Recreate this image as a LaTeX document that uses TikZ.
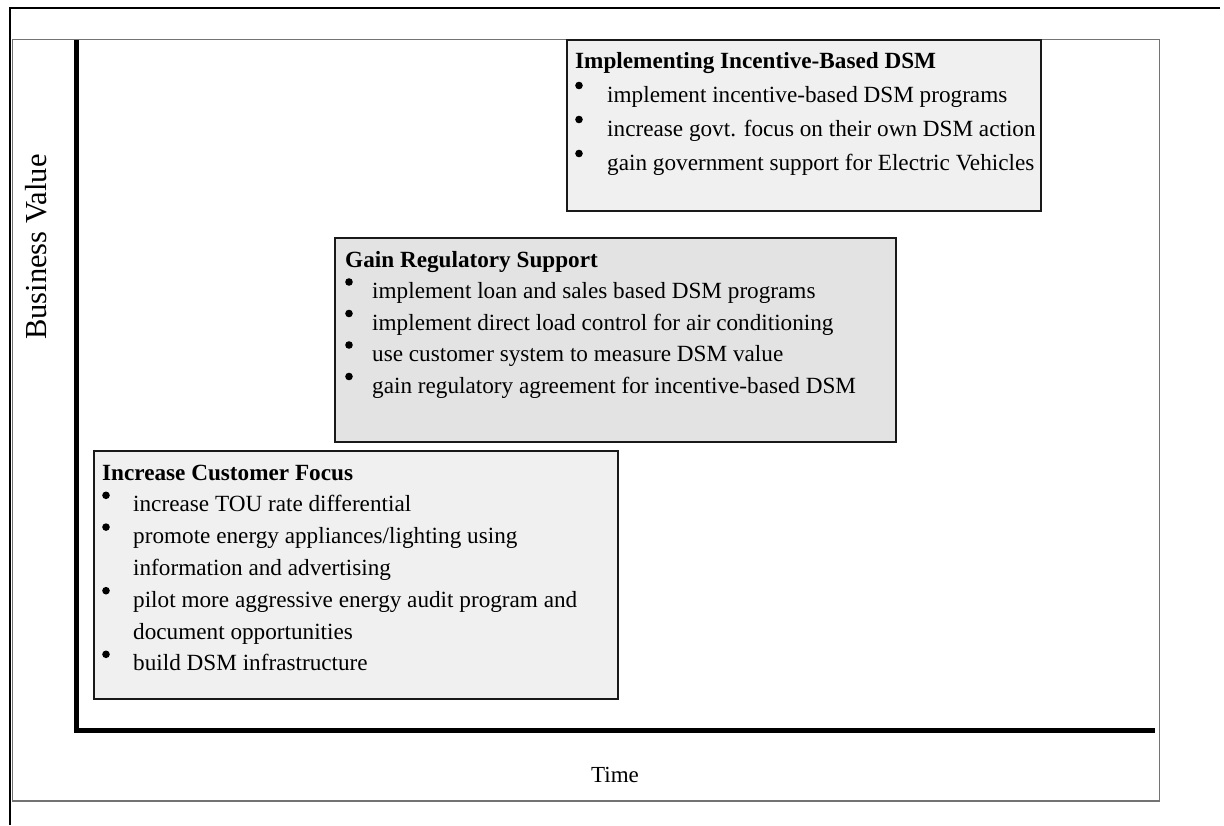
\documentclass[tikz,border=0pt]{standalone}
\usepackage{fontspec}
\setmainfont{Liberation Serif}
\usepackage{array}
\newcommand\bul{\tikz[baseline=0pt]\fill[black] (4pt,16.5pt) circle (3.8pt);}
\tikzset{
  frameline/.style={draw=black,line width=2.2pt},
  innerframe/.style={draw=black!55,line width=1.2pt},
  axisline/.style={draw=black,line width=5pt},
  stagebox/.style={draw=black!90,line width=2pt},
  boxtext/.style={anchor=base west,inner sep=0pt,align=left},
  axislabel/.style={inner sep=0pt}
}
\begin{document}
\begin{tikzpicture}[x=1pt,y=-1pt]
\useasboundingbox (0,0) rectangle (1224,825);
% outer partial frame
\coordinate (otl) at (10,8);
\coordinate (otr) at (1220,8);
\coordinate (obl) at (10,825);
\draw[frameline] (otr) -- (otl) -- (obl);
% inner frame
\draw[innerframe] (12.5,39.5) rectangle (1159.5,801);
% axes
\coordinate (ytop) at (76.5,39.5);
\coordinate (ybot) at (76.5,733);
\coordinate (xbeg) at (74,730.5);
\coordinate (xend) at (1155,730.5);
\draw[axisline] (ytop) -- (ybot);
\draw[axisline] (xbeg) -- (xend);
% labels
\node[axislabel,rotate=90,font=\fontsize{30.5}{32}\selectfont] (yl) at (36,247) {Business Value};
\node[axislabel,font=\fontsize{23}{26}\selectfont] (xl) at (615,775) {Time};
% boxes
\draw[stagebox,fill=black!6] (567,40) rectangle (1041,211);
\node[boxtext] (t1) at (575,68) {\fontsize{23.2}{34}\selectfont
\begin{tabular}[t]{@{}p{32pt}@{}l@{}}
\multicolumn{2}{@{}l@{}}{\textbf{Implementing Incentive-Based DSM}}\\
\bul & implement incentive-based DSM programs\\
\bul & increase govt. focus on their own DSM action\\
\bul & gain government support for Electric Vehicles
\end{tabular}};
\draw[stagebox,fill=black!11] (335,238) rectangle (896,442);
\node[boxtext] (t2) at (345,267) {\fontsize{23.2}{31.5}\selectfont
\begin{tabular}[t]{@{}p{27pt}@{}l@{}}
\multicolumn{2}{@{}l@{}}{\textbf{Gain Regulatory Support}}\\
\bul & implement loan and sales based DSM programs\\
\bul & implement direct load control for air conditioning\\
\bul & use customer system to measure DSM value\\
\bul & gain regulatory agreement for incentive-based DSM
\end{tabular}};
\draw[stagebox,fill=black!6] (94,451) rectangle (618,699);
\node[boxtext] (t3) at (102,480) {\fontsize{23.2}{31.8}\selectfont
\begin{tabular}[t]{@{}p{31pt}@{}l@{}}
\multicolumn{2}{@{}l@{}}{\textbf{Increase Customer Focus}}\\
\bul & increase TOU rate differential\\
\bul & promote energy appliances/lighting using\\
 & information and advertising\\
\bul & pilot more aggressive energy audit program and\\
 & document opportunities\\
\bul & build DSM infrastructure
\end{tabular}};
\end{tikzpicture}
\end{document}
